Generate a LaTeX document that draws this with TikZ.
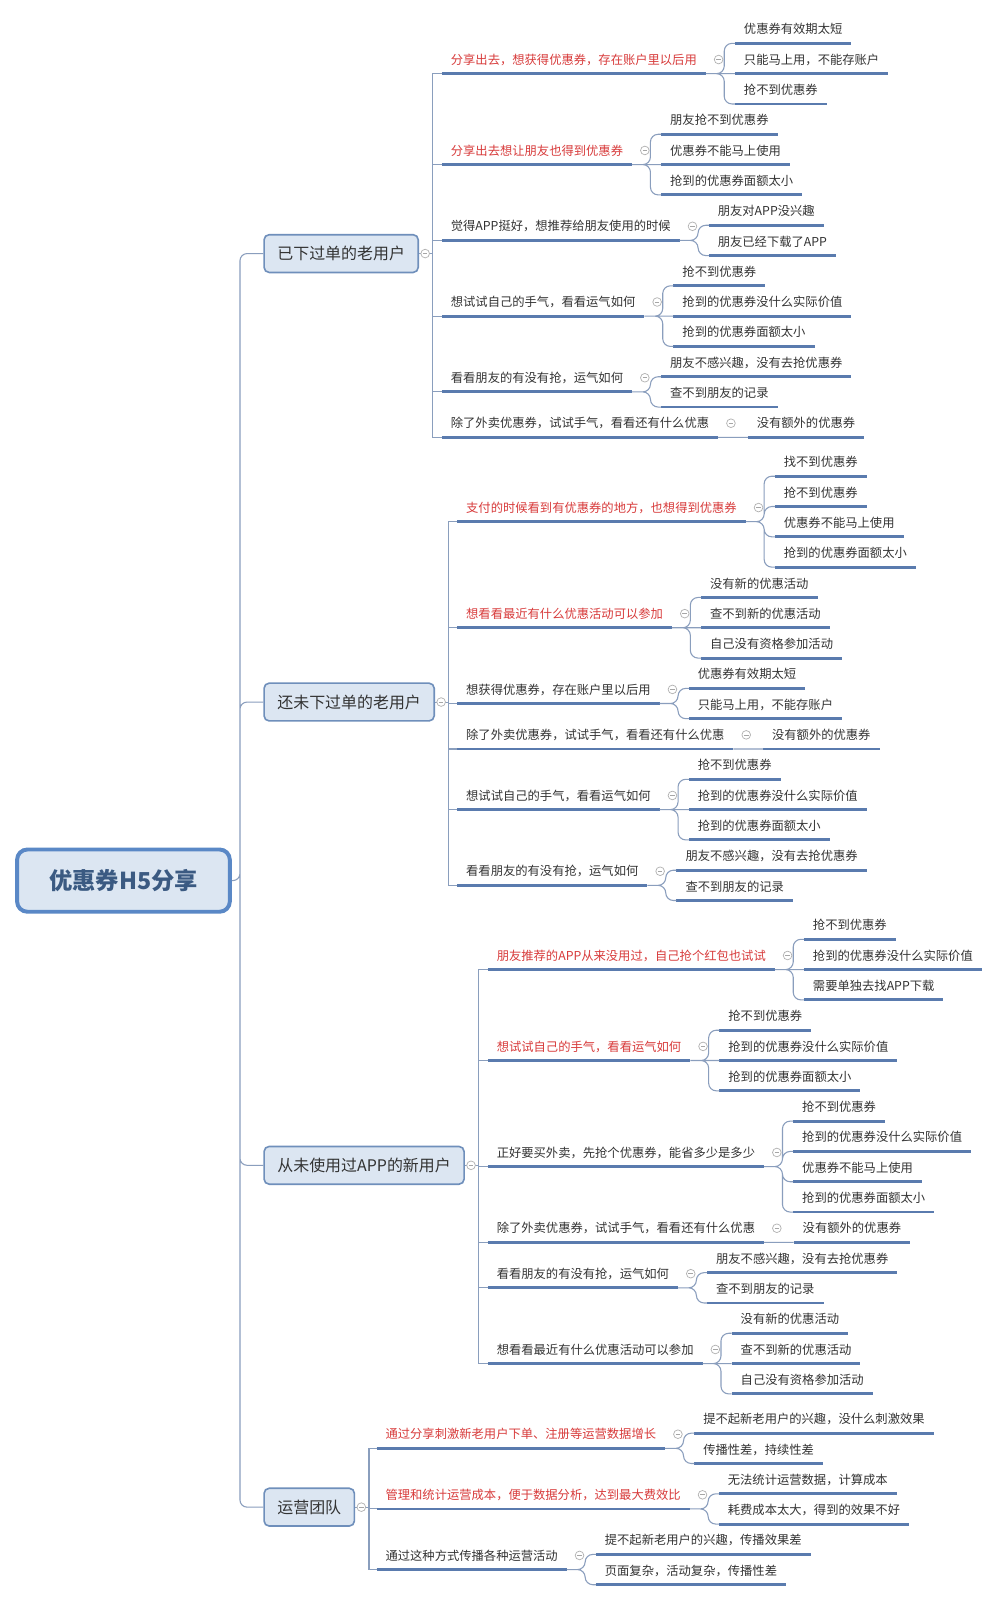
\documentclass[tikz,border=0pt]{standalone}
\usepackage{fontspec}
\newfontfamily\cjkfont{Noto Sans CJK SC}
\definecolor{ulblue}{HTML}{5A7BAE}
\definecolor{twigc}{HTML}{8A9EBD}
\definecolor{hotred}{HTML}{D83B3B}
\definecolor{inktext}{HTML}{333333}
\definecolor{boxfill}{HTML}{DCE6F2}
\definecolor{boxline}{HTML}{6F8FBB}
\definecolor{hubline}{HTML}{5A88C6}
\definecolor{hubtext}{HTML}{3B5A82}

\begin{document}
\begin{tikzpicture}[x=0.02cm, y=-0.02cm,
  hub/.style={draw=hubline, line width=2.2pt, fill=boxfill, rounded corners=0.2cm,
    minimum width=4.17cm, minimum height=1.22cm, text=hubtext,
    font=\cjkfont\bfseries\fontsize{13pt}{15pt}\selectfont},
  usrbox/.style={draw=boxline, line width=0.9pt, fill=boxfill, rounded corners=0.1cm,
    anchor=west, inner xsep=0.26cm, minimum height=0.74cm, text=inktext,
    font=\cjkfont\fontsize{8.9pt}{10pt}\selectfont},
  topic/.style={anchor=south west, inner xsep=0.17cm, inner ysep=4.25pt,
    text height=6.04pt, text depth=0.82pt, text=inktext,
    font=\cjkfont\fontsize{6.86pt}{8pt}\selectfont,
    append after command={(\tikzlastnode.south west)
      edge[draw=ulblue, line width=1.6pt] (\tikzlastnode.south east)}},
  hot/.style={topic, text=hotred},
  twig/.style={draw=twigc, line width=0.6pt},
  fold/.style={circle, draw=gray!60, fill=white, line width=0.4pt,
    inner sep=0pt, minimum size=0.17cm,
    path picture={\draw[gray!70, line width=0.4pt]
      ([xshift=0.04cm]path picture bounding box.west) --
      ([xshift=-0.04cm]path picture bounding box.east);}}]

  % Page
  \fill[white] (0,0) rectangle (980,1568);
  \useasboundingbox (0,0) rectangle (980,1568);

  % Central topic and the four user groups
  \node[hub] (hub) at (121,863) {优惠券H5分享};
  \node[usrbox] (old) at (258,248.5) {已下过单的老用户};
  \node[usrbox] (wait) at (258,688) {还未下过单的老用户};
  \node[usrbox] (fresh) at (258,1142) {从未使用过APP的新用户};
  \node[usrbox] (ops) at (258,1477) {运营团队};

  \draw[twig, rounded corners=0.14cm] (hub.east) -- ++(8,0) |- (old.west)
    (hub.east) ++(8,0) |- (wait.west)
    (hub.east) ++(8,0) |- (fresh.west)
    (hub.east) ++(8,0) |- (ops.west);

  % ---------------- 已下过单的老用户
  \node[hot] (o1) at (433,72.2) {分享出去，想获得优惠券，存在账户里以后用};
  \node[hot] (o2) at (433,161.3) {分享出去想让朋友也得到优惠券};
  \node[topic] (o3) at (433,235.6) {觉得APP挺好，想推荐给朋友使用的时候};
  \node[topic] (o4) at (433,309.8) {想试试自己的手气，看看运气如何};
  \node[topic] (o5) at (433,384.05) {看看朋友的有没有抢，运气如何};
  \node[topic] (o6) at (433,428.6) {除了外卖优惠券，试试手气，看看还有什么优惠};

  \node[topic] (o1a) at ([shift={(28.5,-29.7)}]o1.south east) {优惠券有效期太短};
  \node[topic] (o1b) at ([shift={(28.5,0)}]o1.south east) {只能马上用，不能存账户};
  \node[topic] (o1c) at ([shift={(28.5,29.7)}]o1.south east) {抢不到优惠券};
  \node[topic] (o2a) at ([shift={(28.5,-29.7)}]o2.south east) {朋友抢不到优惠券};
  \node[topic] (o2b) at ([shift={(28.5,0)}]o2.south east) {优惠券不能马上使用};
  \node[topic] (o2c) at ([shift={(28.5,29.7)}]o2.south east) {抢到的优惠券面额太小};
  \node[topic] (o3a) at ([shift={(28.5,-14.85)}]o3.south east) {朋友对APP没兴趣};
  \node[topic] (o3b) at ([shift={(28.5,14.85)}]o3.south east) {朋友已经下载了APP};
  \node[topic] (o4a) at ([shift={(28.5,-29.7)}]o4.south east) {抢不到优惠券};
  \node[topic] (o4b) at ([shift={(28.5,0)}]o4.south east) {抢到的优惠券没什么实际价值};
  \node[topic] (o4c) at ([shift={(28.5,29.7)}]o4.south east) {抢到的优惠券面额太小};
  \node[topic] (o5a) at ([shift={(28.5,-14.85)}]o5.south east) {朋友不感兴趣，没有去抢优惠券};
  \node[topic] (o5b) at ([shift={(28.5,14.85)}]o5.south east) {查不到朋友的记录};
  \node[topic] (o6a) at ([shift={(29,0)}]o6.south east) {没有额外的优惠券};

  \draw[twig] (old.east) -- ++(13.5,0) |- (o1.south west)
    (old.east) ++(13.5,0) |- (o2.south west)
    (old.east) ++(13.5,0) |- (o3.south west)
    (old.east) ++(13.5,0) |- (o4.south west)
    (old.east) ++(13.5,0) |- (o5.south west)
    (old.east) ++(13.5,0) |- (o6.south west);
  \draw[twig, rounded corners=0.15cm]
    (o1.south east) -- ++(18,0) |- (o1a.south west) (o1.south east) -- (o1b.south west)
    (o1.south east) -- ++(18,0) |- (o1c.south west)
    (o2.south east) -- ++(18,0) |- (o2a.south west) (o2.south east) -- (o2b.south west)
    (o2.south east) -- ++(18,0) |- (o2c.south west)
    (o3.south east) -- ++(18,0) |- (o3a.south west)
    (o3.south east) -- ++(18,0) |- (o3b.south west)
    (o4.south east) -- ++(18,0) |- (o4a.south west) (o4.south east) -- (o4b.south west)
    (o4.south east) -- ++(18,0) |- (o4c.south west)
    (o5.south east) -- ++(18,0) |- (o5a.south west)
    (o5.south east) -- ++(18,0) |- (o5b.south west)
    (o6.south east) -- (o6a.south west);

  \node[fold] (fold-old) at ([xshift=0.12cm]old.east) {};
  \node[fold] (fold-o1) at ([xshift=0.25cm]o1.east) {};
  \node[fold] (fold-o2) at ([xshift=0.25cm]o2.east) {};
  \node[fold] (fold-o3) at ([xshift=0.25cm]o3.east) {};
  \node[fold] (fold-o4) at ([xshift=0.25cm]o4.east) {};
  \node[fold] (fold-o5) at ([xshift=0.25cm]o5.east) {};
  \node[fold] (fold-o6) at ([xshift=0.25cm]o6.east) {};

  % ---------------- 还未下过单的老用户
  \node[hot] (p1) at (448,511.25) {支付的时候看到有优惠券的地方，也想得到优惠券};
  \node[hot] (p2) at (448,615.2) {想看看最近有什么优惠活动可以参加};
  \node[topic] (p3) at (448,689.45) {想获得优惠券，存在账户里以后用};
  \node[topic] (p4) at (448,734) {除了外卖优惠券，试试手气，看看还有什么优惠};
  \node[topic] (p5) at (448,793.4) {想试试自己的手气，看看运气如何};
  \node[topic] (p6) at (448,867.65) {看看朋友的有没有抢，运气如何};

  \node[topic] (p1a) at ([shift={(28.5,-44.55)}]p1.south east) {找不到优惠券};
  \node[topic] (p1b) at ([shift={(28.5,-14.85)}]p1.south east) {抢不到优惠券};
  \node[topic] (p1c) at ([shift={(28.5,14.85)}]p1.south east) {优惠券不能马上使用};
  \node[topic] (p1d) at ([shift={(28.5,44.55)}]p1.south east) {抢到的优惠券面额太小};
  \node[topic] (p2a) at ([shift={(28.5,-29.7)}]p2.south east) {没有新的优惠活动};
  \node[topic] (p2b) at ([shift={(28.5,0)}]p2.south east) {查不到新的优惠活动};
  \node[topic] (p2c) at ([shift={(28.5,29.7)}]p2.south east) {自己没有资格参加活动};
  \node[topic] (p3a) at ([shift={(28.5,-14.85)}]p3.south east) {优惠券有效期太短};
  \node[topic] (p3b) at ([shift={(28.5,14.85)}]p3.south east) {只能马上用，不能存账户};
  \node[topic] (p4a) at ([shift={(29,0)}]p4.south east) {没有额外的优惠券};
  \node[topic] (p5a) at ([shift={(28.5,-29.7)}]p5.south east) {抢不到优惠券};
  \node[topic] (p5b) at ([shift={(28.5,0)}]p5.south east) {抢到的优惠券没什么实际价值};
  \node[topic] (p5c) at ([shift={(28.5,29.7)}]p5.south east) {抢到的优惠券面额太小};
  \node[topic] (p6a) at ([shift={(28.5,-14.85)}]p6.south east) {朋友不感兴趣，没有去抢优惠券};
  \node[topic] (p6b) at ([shift={(28.5,14.85)}]p6.south east) {查不到朋友的记录};

  \draw[twig] (wait.east) -- ++(13.5,0) |- (p1.south west)
    (wait.east) ++(13.5,0) |- (p2.south west)
    (wait.east) ++(13.5,0) |- (p3.south west)
    (wait.east) ++(13.5,0) |- (p4.south west)
    (wait.east) ++(13.5,0) |- (p5.south west)
    (wait.east) ++(13.5,0) |- (p6.south west);
  \draw[twig, rounded corners=0.15cm]
    (p1.south east) -- ++(18,0) |- (p1a.south west)
    (p1.south east) -- ++(18,0) |- (p1b.south west)
    (p1.south east) -- ++(18,0) |- (p1c.south west)
    (p1.south east) -- ++(18,0) |- (p1d.south west)
    (p2.south east) -- ++(18,0) |- (p2a.south west) (p2.south east) -- (p2b.south west)
    (p2.south east) -- ++(18,0) |- (p2c.south west)
    (p3.south east) -- ++(18,0) |- (p3a.south west)
    (p3.south east) -- ++(18,0) |- (p3b.south west)
    (p4.south east) -- (p4a.south west)
    (p5.south east) -- ++(18,0) |- (p5a.south west) (p5.south east) -- (p5b.south west)
    (p5.south east) -- ++(18,0) |- (p5c.south west)
    (p6.south east) -- ++(18,0) |- (p6a.south west)
    (p6.south east) -- ++(18,0) |- (p6b.south west);

  \node[fold] (fold-wait) at ([xshift=0.12cm]wait.east) {};
  \node[fold] (fold-p1) at ([xshift=0.25cm]p1.east) {};
  \node[fold] (fold-p2) at ([xshift=0.25cm]p2.east) {};
  \node[fold] (fold-p3) at ([xshift=0.25cm]p3.east) {};
  \node[fold] (fold-p4) at ([xshift=0.25cm]p4.east) {};
  \node[fold] (fold-p5) at ([xshift=0.25cm]p5.east) {};
  \node[fold] (fold-p6) at ([xshift=0.25cm]p6.east) {};

  % ---------------- 从未使用过APP的新用户
  \node[hot] (n1) at (478,950.2) {朋友推荐的APP从来没用过，自己抢个红包也试试};
  \node[hot] (n2) at (478,1039.3) {想试试自己的手气，看看运气如何};
  \node[topic] (n3) at (478,1143.25) {正好要买外卖，先抢个优惠券，能省多少是多少};
  \node[topic] (n4) at (478,1217.5) {除了外卖优惠券，试试手气，看看还有什么优惠};
  \node[topic] (n5) at (478,1262.05) {看看朋友的有没有抢，运气如何};
  \node[topic] (n6) at (478,1336.3) {想看看最近有什么优惠活动可以参加};

  \node[topic] (n1a) at ([shift={(28.5,-29.7)}]n1.south east) {抢不到优惠券};
  \node[topic] (n1b) at ([shift={(28.5,0)}]n1.south east) {抢到的优惠券没什么实际价值};
  \node[topic] (n1c) at ([shift={(28.5,29.7)}]n1.south east) {需要单独去找APP下载};
  \node[topic] (n2a) at ([shift={(28.5,-29.7)}]n2.south east) {抢不到优惠券};
  \node[topic] (n2b) at ([shift={(28.5,0)}]n2.south east) {抢到的优惠券没什么实际价值};
  \node[topic] (n2c) at ([shift={(28.5,29.7)}]n2.south east) {抢到的优惠券面额太小};
  \node[topic] (n3a) at ([shift={(28.5,-44.55)}]n3.south east) {抢不到优惠券};
  \node[topic] (n3b) at ([shift={(28.5,-14.85)}]n3.south east) {抢到的优惠券没什么实际价值};
  \node[topic] (n3c) at ([shift={(28.5,14.85)}]n3.south east) {优惠券不能马上使用};
  \node[topic] (n3d) at ([shift={(28.5,44.55)}]n3.south east) {抢到的优惠券面额太小};
  \node[topic] (n4a) at ([shift={(29,0)}]n4.south east) {没有额外的优惠券};
  \node[topic] (n5a) at ([shift={(28.5,-14.85)}]n5.south east) {朋友不感兴趣，没有去抢优惠券};
  \node[topic] (n5b) at ([shift={(28.5,14.85)}]n5.south east) {查不到朋友的记录};
  \node[topic] (n6a) at ([shift={(28.5,-29.7)}]n6.south east) {没有新的优惠活动};
  \node[topic] (n6b) at ([shift={(28.5,0)}]n6.south east) {查不到新的优惠活动};
  \node[topic] (n6c) at ([shift={(28.5,29.7)}]n6.south east) {自己没有资格参加活动};

  \draw[twig] (fresh.east) -- ++(13.5,0) |- (n1.south west)
    (fresh.east) ++(13.5,0) |- (n2.south west)
    (fresh.east) ++(13.5,0) |- (n3.south west)
    (fresh.east) ++(13.5,0) |- (n4.south west)
    (fresh.east) ++(13.5,0) |- (n5.south west)
    (fresh.east) ++(13.5,0) |- (n6.south west);
  \draw[twig, rounded corners=0.15cm]
    (n1.south east) -- ++(18,0) |- (n1a.south west) (n1.south east) -- (n1b.south west)
    (n1.south east) -- ++(18,0) |- (n1c.south west)
    (n2.south east) -- ++(18,0) |- (n2a.south west) (n2.south east) -- (n2b.south west)
    (n2.south east) -- ++(18,0) |- (n2c.south west)
    (n3.south east) -- ++(18,0) |- (n3a.south west)
    (n3.south east) -- ++(18,0) |- (n3b.south west)
    (n3.south east) -- ++(18,0) |- (n3c.south west)
    (n3.south east) -- ++(18,0) |- (n3d.south west)
    (n4.south east) -- (n4a.south west)
    (n5.south east) -- ++(18,0) |- (n5a.south west)
    (n5.south east) -- ++(18,0) |- (n5b.south west)
    (n6.south east) -- ++(18,0) |- (n6a.south west) (n6.south east) -- (n6b.south west)
    (n6.south east) -- ++(18,0) |- (n6c.south west);

  \node[fold] (fold-fresh) at ([xshift=0.12cm]fresh.east) {};
  \node[fold] (fold-n1) at ([xshift=0.25cm]n1.east) {};
  \node[fold] (fold-n2) at ([xshift=0.25cm]n2.east) {};
  \node[fold] (fold-n3) at ([xshift=0.25cm]n3.east) {};
  \node[fold] (fold-n4) at ([xshift=0.25cm]n4.east) {};
  \node[fold] (fold-n5) at ([xshift=0.25cm]n5.east) {};
  \node[fold] (fold-n6) at ([xshift=0.25cm]n6.east) {};

  % ---------------- 运营团队
  \node[hot] (t1) at (369,1419.35) {通过分享刺激新老用户下单、注册等运营数据增长};
  \node[hot] (t2) at (369,1478.75) {管理和统计运营成本，便于数据分析，达到最大费效比};
  \node[topic] (t3) at (369,1538.15) {通过这种方式传播各种运营活动};

  \node[topic] (t1a) at ([shift={(28.5,-14.85)}]t1.south east) {提不起新老用户的兴趣，没什么刺激效果};
  \node[topic] (t1b) at ([shift={(28.5,14.85)}]t1.south east) {传播性差，持续性差};
  \node[topic] (t2a) at ([shift={(28.5,-14.85)}]t2.south east) {无法统计运营数据，计算成本};
  \node[topic] (t2b) at ([shift={(28.5,14.85)}]t2.south east) {耗费成本太大，得到的效果不好};
  \node[topic] (t3a) at ([shift={(28.5,-14.85)}]t3.south east) {提不起新老用户的兴趣，传播效果差};
  \node[topic] (t3b) at ([shift={(28.5,14.85)}]t3.south east) {页面复杂，活动复杂，传播性差};

  \draw[twig] (ops.east) -- ++(13.5,0) |- (t1.south west)
    (ops.east) ++(13.5,0) |- (t2.south west)
    (ops.east) ++(13.5,0) |- (t3.south west);
  \draw[twig, rounded corners=0.15cm]
    (t1.south east) -- ++(18,0) |- (t1a.south west)
    (t1.south east) -- ++(18,0) |- (t1b.south west)
    (t2.south east) -- ++(18,0) |- (t2a.south west)
    (t2.south east) -- ++(18,0) |- (t2b.south west)
    (t3.south east) -- ++(18,0) |- (t3a.south west)
    (t3.south east) -- ++(18,0) |- (t3b.south west);

  \node[fold] (fold-ops) at ([xshift=0.12cm]ops.east) {};
  \node[fold] (fold-t1) at ([xshift=0.25cm]t1.east) {};
  \node[fold] (fold-t2) at ([xshift=0.25cm]t2.east) {};
  \node[fold] (fold-t3) at ([xshift=0.25cm]t3.east) {};
\end{tikzpicture}
\end{document}
